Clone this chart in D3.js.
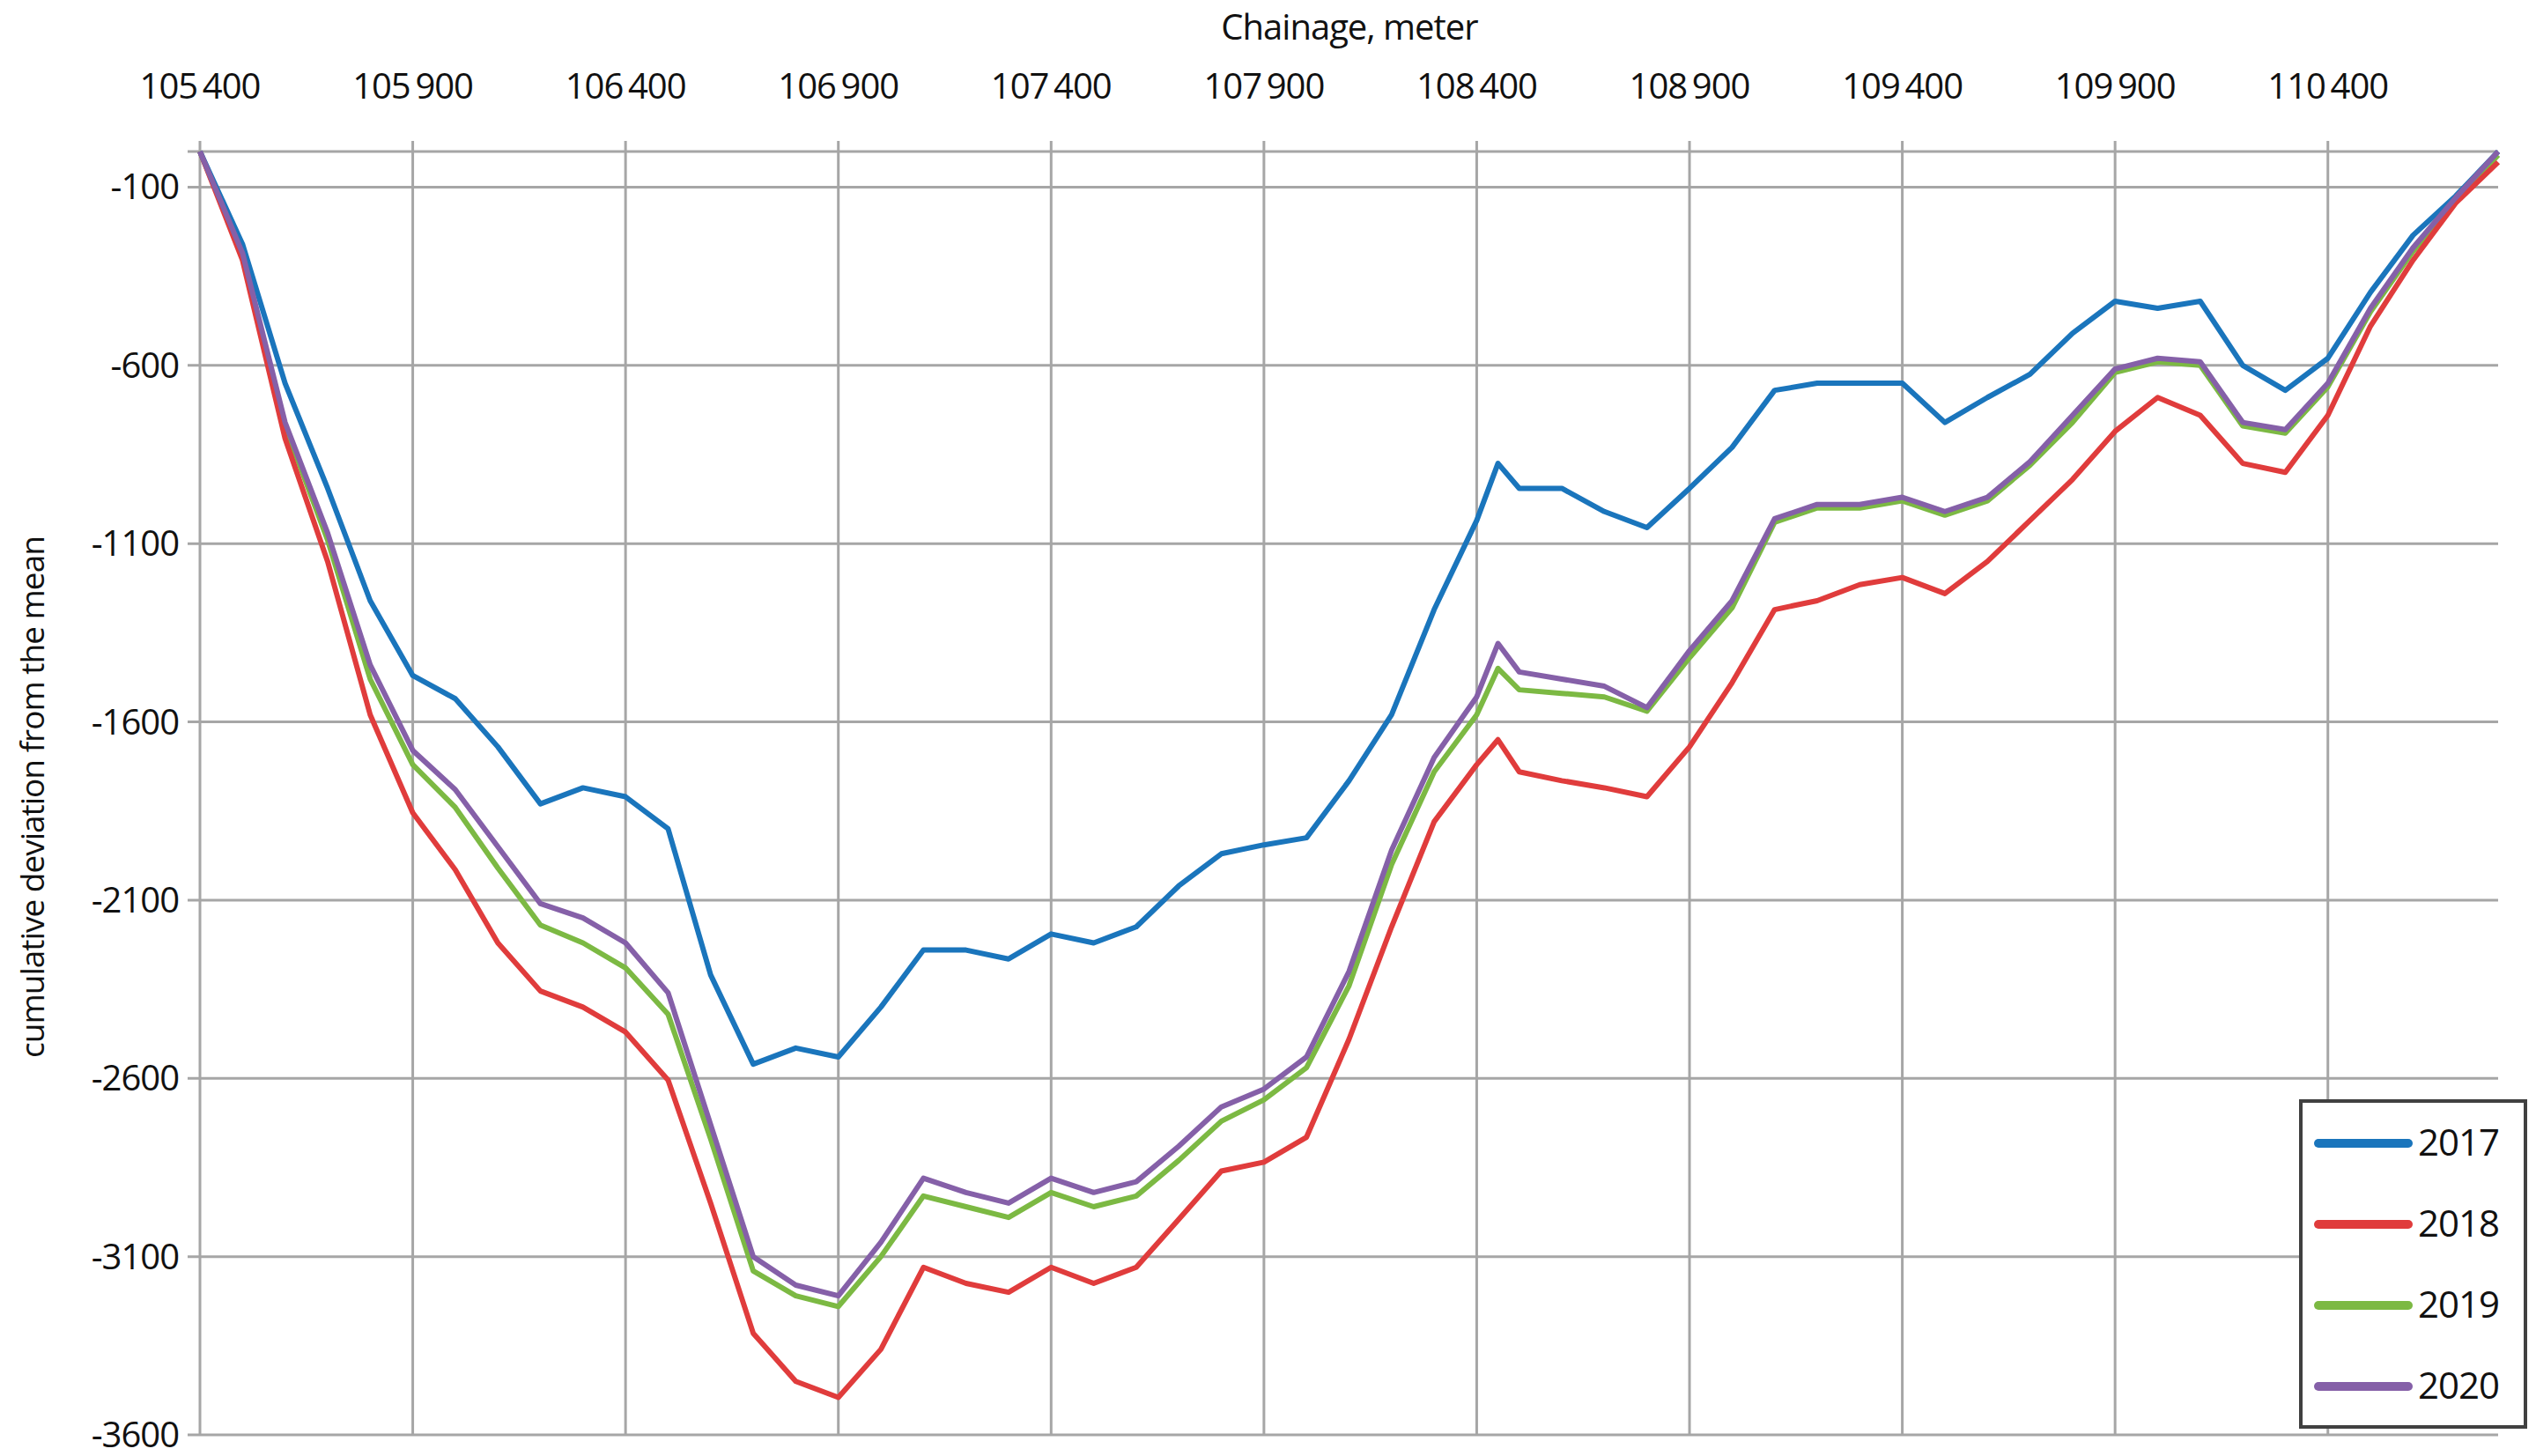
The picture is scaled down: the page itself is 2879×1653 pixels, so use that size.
<!DOCTYPE html>
<html><head><meta charset="utf-8">
<script src="https://cdn.jsdelivr.net/npm/d3@7"></script>
<style>body{margin:0;background:#fff}text{font-family:"Liberation Sans Narrow","Open Sans",sans-serif;fill:#111;letter-spacing:-1px}</style>
</head><body>
<script>
// chainage positions (m)
var chainage = [105400,105500,105600,105700,105800,105900,106000,106100,106200,106300,106400,106500,106600,106700,106800,106900,107000,107100,107200,107300,107400,107500,107600,107700,107800,107900,108000,108100,108200,108300,108400,108450,108500,108600,108700,108800,108900,109000,109100,109200,109300,109400,109500,109600,109700,109800,109900,110000,110100,110200,110300,110400,110500,110600,110700,110800];
var s2017 = [0,-260,-650,-945,-1260,-1470,-1535,-1670,-1830,-1785,-1810,-1900,-2310,-2560,-2515,-2540,-2400,-2240,-2240,-2265,-2195,-2220,-2175,-2060,-1970,-1945,-1925,-1765,-1580,-1285,-1035,-875,-945,-945,-1010,-1055,-945,-830,-670,-650,-650,-650,-760,-690,-625,-510,-420,-440,-420,-600,-670,-580,-395,-235,-125,0];
var s2018 = [0,-305,-805,-1150,-1580,-1855,-2015,-2220,-2355,-2400,-2470,-2605,-2950,-3315,-3450,-3495,-3360,-3130,-3175,-3200,-3130,-3175,-3130,-2995,-2860,-2835,-2765,-2490,-2175,-1880,-1720,-1650,-1740,-1765,-1785,-1810,-1670,-1490,-1285,-1260,-1215,-1195,-1240,-1150,-1035,-920,-785,-690,-740,-875,-900,-740,-490,-305,-145,-30];
var s2019 = [0,-290,-770,-1090,-1480,-1720,-1840,-2010,-2170,-2220,-2290,-2420,-2770,-3140,-3210,-3240,-3100,-2930,-2960,-2990,-2920,-2960,-2930,-2830,-2720,-2660,-2570,-2340,-2000,-1740,-1580,-1450,-1510,-1520,-1530,-1570,-1420,-1280,-1040,-1000,-1000,-980,-1020,-980,-880,-760,-620,-590,-600,-770,-790,-660,-450,-280,-140,-10];
var s2020 = [0,-285,-760,-1070,-1440,-1680,-1790,-1950,-2110,-2150,-2220,-2360,-2730,-3100,-3180,-3210,-3060,-2880,-2920,-2950,-2880,-2920,-2890,-2790,-2680,-2630,-2540,-2300,-1960,-1700,-1530,-1380,-1460,-1480,-1500,-1560,-1400,-1260,-1030,-990,-990,-970,-1010,-970,-870,-740,-610,-580,-590,-760,-780,-650,-440,-270,-130,0];
var years = ["2017","2018","2019","2020"];
var colors = ["#1a75bc","#e03c3c","#7cb943","#8560a8"];
var xTicks = [105400,105900,106400,106900,107400,107900,108400,108900,109400,109900,110400];
var yTicks = [-100,-600,-1100,-1600,-2100,-2600,-3100,-3600];

var W = 2879, H = 1653;
var m = {left: 227, right: 43, top: 172, bottom: 24};
var svg = d3.select("body").append("svg").attr("width", W).attr("height", H);

var x = d3.scaleLinear().domain([105400,110800]).range([m.left, W - m.right]);
var y = d3.scaleLinear().domain([0,-3600]).range([m.top, H - m.bottom]);
var fmt = function(d) { return String(d).slice(0,3) + "\u2009" + String(d).slice(3); };

// gridlines
svg.append("g").selectAll("line").data(xTicks).join("line")
  .attr("x1", x).attr("x2", x).attr("y1", m.top - 12).attr("y2", y(-3600))
  .attr("stroke", "#a6a6a6").attr("stroke-width", 3);
svg.append("g").selectAll("line").data(yTicks.concat([0])).join("line")
  .attr("x1", m.left - 14).attr("x2", x(110800)).attr("y1", y).attr("y2", y)
  .attr("stroke", "#a6a6a6").attr("stroke-width", 3);

// axis labels
svg.append("g").selectAll("text").data(xTicks).join("text")
  .attr("x", x).attr("y", 112).attr("text-anchor", "middle")
  .attr("font-size", 40).text(fmt);
svg.append("g").selectAll("text").data(yTicks).join("text")
  .attr("x", m.left - 24).attr("y", function(d) { return y(d) + 14; })
  .attr("text-anchor", "end").attr("font-size", 40).text(function(d) { return "-" + Math.abs(d); });
svg.append("text").attr("x", 1532).attr("y", 45).attr("text-anchor", "middle")
  .attr("font-size", 40).text("Chainage, meter");
svg.append("text").attr("transform", "translate(50,905) rotate(-90)")
  .attr("text-anchor", "middle").attr("font-size", 37).text("cumulative deviation from the mean");

// series lines
var series = [s2017, s2018, s2019, s2020];
var line = d3.line().x(function(d, i) { return x(chainage[i]); }).y(function(d) { return y(d); });
[2,1,0,3].forEach(function(k) {
  svg.append("path").datum(series[k]).attr("d", line)
    .attr("fill", "none").attr("stroke", colors[k]).attr("stroke-width", 6)
    .attr("stroke-linejoin", "round");
});

// legend
var lg = svg.append("g").attr("transform", "translate(2612,1250)");
lg.append("rect").attr("width", 255).attr("height", 370).attr("fill", "#fff")
  .attr("stroke", "#404040").attr("stroke-width", 4);
years.forEach(function(yr, i) {
  var cy = 48 + i * 92;
  lg.append("line").attr("x1", 20).attr("x2", 122).attr("y1", cy).attr("y2", cy)
    .attr("stroke", colors[i]).attr("stroke-width", 10).attr("stroke-linecap", "round");
  lg.append("text").attr("x", 133).attr("y", cy + 14).attr("font-size", 42).text(yr);
});
</script>
</body></html>
